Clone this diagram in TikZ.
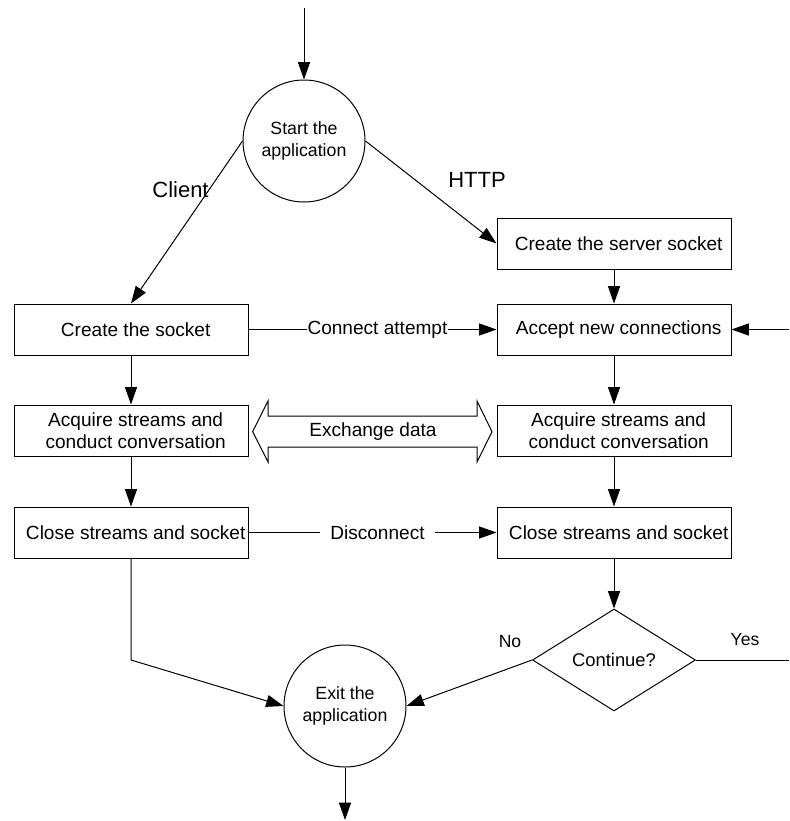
\documentclass[tikz,border=0pt]{standalone}
\usepackage{fontspec}
\setmainfont{Liberation Sans}
\usetikzlibrary{arrows.meta,shapes.geometric,calc}

% small lead-in that sets box text a little right of centre
\newcommand\bxpad{\hspace*{7pt}}

\begin{document}
\begin{tikzpicture}[x=0.75pt,y=-0.75pt,
  every node/.style={font=\fontsize{14.3}{16.5}\selectfont},
  flow/.style={line width=0.75pt,-{Triangle[length=13pt,width=9pt]}},
  plain/.style={line width=0.75pt},
  proc/.style={draw,line width=0.75pt,rectangle,minimum width=175.5pt,
    minimum height=38.25pt,inner sep=0pt,align=center},
  term/.style={draw,circle,line width=0.75pt,minimum size=91.5pt,inner sep=0pt,
    align=center,font=\fontsize{13.3}{16.5}\selectfont},
  decision/.style={draw,diamond,line width=0.75pt,minimum width=122.25pt,
    minimum height=76.5pt,inner sep=0pt,align=center,font=\fontsize{13.8}{16}\selectfont},
  onlink/.style={fill=white,inner sep=0.5pt},
  side/.style={font=\fontsize{16.5}{18}\selectfont},
  small/.style={font=\fontsize{13.2}{16}\selectfont}
]
\useasboundingbox (0,0) rectangle (789,821);

% terminals
\node[term] (start) at (304,141) {Start the\\application};
\node[term] (exit)  at (345,706) {Exit the\\application};

% client column
\node[proc] (sock)   at (131,329.5) {\bxpad Create the socket};
\node[proc] (acqL)   at (131,430.5) {\bxpad Acquire streams and\\\bxpad conduct conversation};
\node[proc] (closeL) at (131,532.5) {\bxpad Close streams and socket};

% server column
\node[proc] (server) at (614,243.5) {\bxpad Create the server socket};
\node[proc] (accept) at (614,329.5) {\bxpad Accept new connections};
\node[proc] (acqR)   at (614,430.5) {\bxpad Acquire streams and\\\bxpad conduct conversation};
\node[proc] (closeR) at (614,532.5) {\bxpad Close streams and socket};
\node[decision] (cont) at (614,660) {Continue?};

% loose ends
\coordinate (entry)  at (304,8);
\coordinate (again)  at (789,329.5);
\coordinate (yesend) at (789,660);
\coordinate (bend)   at (131,660);
\coordinate (leave)  at (345,820);

% branch labels
\node[side] (client) at (180.5,190) {Client};
\node[side] (http)   at (477,180) {HTTP};
\node[small] (no)    at (510,642) {No};
\node[small] (yes)   at (745,640) {Yes};

% connectors
\draw[flow] (entry) -- (start.north);
\draw[flow] (start.west) -- (sock.north);
\draw[flow] (start.east) -- (server.west);
\draw[flow] (server.south) -- (accept.north);
\draw[flow] (sock.east) -- node[onlink,pos=0.52] {Connect attempt} (accept.west);
\draw[flow] (again) -- (accept.east);
\draw[flow] (sock.south) -- (acqL.north);
\draw[flow] (accept.south) -- (acqR.north);
\draw[flow] (acqL.south) -- (closeL.north);
\draw[flow] (acqR.south) -- (closeR.north);
\draw[flow] (closeL.east) -- node[onlink,pos=0.52,inner xsep=8pt] {Disconnect} (closeR.west);
\draw[flow] (closeR.south) -- (cont.north);
\draw[plain] (cont.east) -- (yesend);
\draw[flow] (cont.west) -- (exit.east);
\draw[flow] (closeL.south) -- (bend) -- (exit.west);
\draw[flow] (exit.south) -- (leave);

% two-way data exchange block arrow
\draw[plain,fill=white,line join=miter]
  (252.7,431.7) -- (268,401) -- (268,416) -- (477,416) -- (477,401)
  -- (492,431.7) -- (477,462) -- (477,447) -- (268,447) -- (268,462) -- cycle;
\node (xchg) at (373,432) {Exchange data};
\end{tikzpicture}
\end{document}
